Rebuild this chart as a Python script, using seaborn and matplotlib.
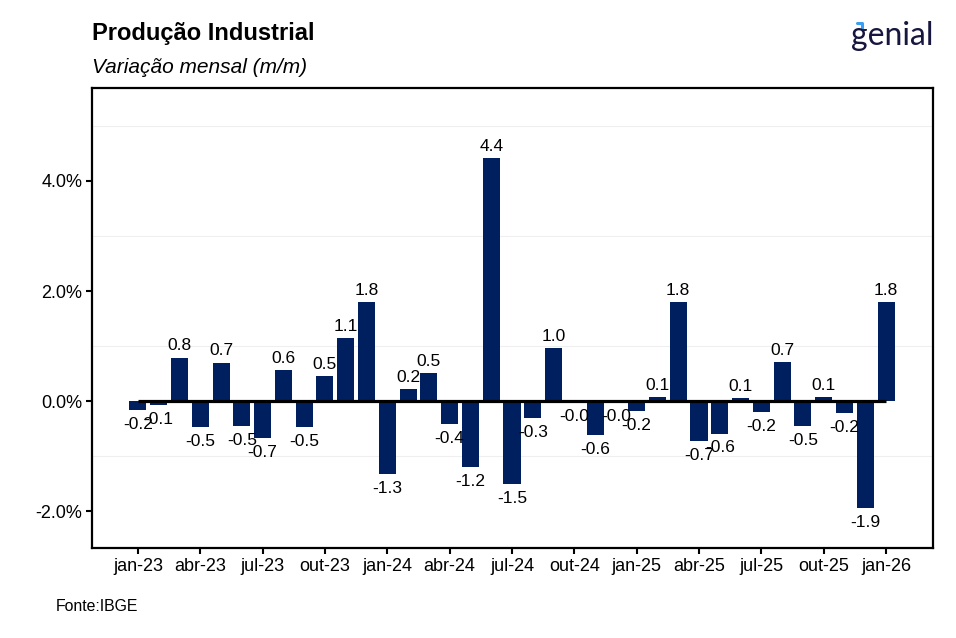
import numpy as np
import pandas as pd
import matplotlib
matplotlib.use("Agg")
import matplotlib.pyplot as plt
import matplotlib.lines as mlines
import seaborn as sns

# dados (variação mensal, %)
meses = ["jan-23", "fev-23", "mar-23", "abr-23", "mai-23", "jun-23",
         "jul-23", "ago-23", "set-23", "out-23", "nov-23", "dez-23",
         "jan-24", "fev-24", "mar-24", "abr-24", "mai-24", "jun-24",
         "jul-24", "ago-24", "set-24", "out-24", "nov-24", "dez-24",
         "jan-25", "fev-25", "mar-25", "abr-25", "mai-25", "jun-25",
         "jul-25", "ago-25", "set-25", "out-25", "nov-25", "dez-25",
         "jan-26"]
variacao = [-0.16, -0.08, 0.79, -0.48, 0.70, -0.46,
            -0.67, 0.56, -0.48, 0.46, 1.14, 1.80,
            -1.33, 0.22, 0.51, -0.42, -1.20, 4.42,
            -1.50, -0.30, 0.96, -0.02, -0.61, -0.02,
            -0.18, 0.08, 1.80, -0.73, -0.59, 0.06,
            -0.20, 0.71, -0.46, 0.08, -0.22, -1.94,
            1.80]
y_ticks = [-2, 0, 2, 4]
y_minor = [-1, 1, 3, 5]

df = pd.DataFrame({"mes": meses, "var": variacao})

sns.set_theme(style="white")
plt.rcParams["font.family"] = ["Liberation Sans", "DejaVu Sans"]
plt.rcParams["text.color"] = "black"

fig = plt.figure(figsize=(9.56, 6.38), dpi=100)
ax = fig.add_axes([92 / 956, 1 - 548 / 638, (933 - 92) / 956, (548 - 88) / 638])

sns.barplot(data=df, x="mes", y="var", color="#001F5F", saturation=1,
            width=0.82, linewidth=0, ax=ax, zorder=2)

# linha do zero, do primeiro ao último mês
ax.hlines(0, 0, len(meses) - 1, color="black", linewidth=2.3, zorder=3)

# rótulos das barras
for i, v in enumerate(variacao):
    if v >= 0:
        ax.annotate(f"{v:.1f}", (i, v), xytext=(0, 3), textcoords="offset points",
                    ha="center", va="bottom", fontsize=12.5, color="black")
    else:
        ax.annotate(f"{v:.1f}", (i, v), xytext=(0, -5), textcoords="offset points",
                    ha="center", va="top", fontsize=12.5, color="black")

ax.set_xlim(-2.21, 38.26)
ax.set_ylim(-2.67, 5.69)
ax.set_xticks(range(0, len(meses), 3))
ax.set_xticklabels(meses[::3])
ax.set_yticks(y_ticks)
ax.set_yticklabels([f"{t:.1f}%" for t in y_ticks])
ax.set_yticks(y_minor, minor=True)
ax.grid(False)
ax.yaxis.grid(True, which="minor", color="#EFEFEF", linewidth=0.8, zorder=0)
ax.set_axisbelow(True)
ax.set_xlabel("")
ax.set_ylabel("")

for s in ax.spines.values():
    s.set_visible(True)
    s.set_color("black")
    s.set_linewidth(1.6)
ax.tick_params(axis="both", which="major", direction="out", length=4, width=1.5,
               color="black", labelsize=13, labelcolor="black", pad=3,
               left=True, bottom=True)
ax.tick_params(axis="y", which="minor", length=0)

# títulos
fig.text(92 / 956, 1 - 40 / 638, "Produção Industrial", fontsize=17,
         fontweight="bold", va="baseline", ha="left", color="black")
fig.text(92 / 956, 1 - 73 / 638, "Variação mensal (m/m)", fontsize=15,
         style="italic", va="baseline", ha="left", color="black")
fig.text(56 / 956, 1 - 611 / 638, "Fonte:IBGE", fontsize=11.4,
         va="baseline", ha="left", color="black")

# logo
fig.text(933 / 956, 1 - 45 / 638, "genial", fontsize=23, color="#16163F",
         family=["Lato", "DejaVu Sans"], va="baseline", ha="right")
fig.add_artist(mlines.Line2D([857 / 956, 862 / 956, 862 / 956],
                             [1 - 23 / 638, 1 - 23 / 638, 1 - 28 / 638],
                             color="#3A9FF0", linewidth=2.2,
                             transform=fig.transFigure))

fig.savefig("out.png", dpi=100)
